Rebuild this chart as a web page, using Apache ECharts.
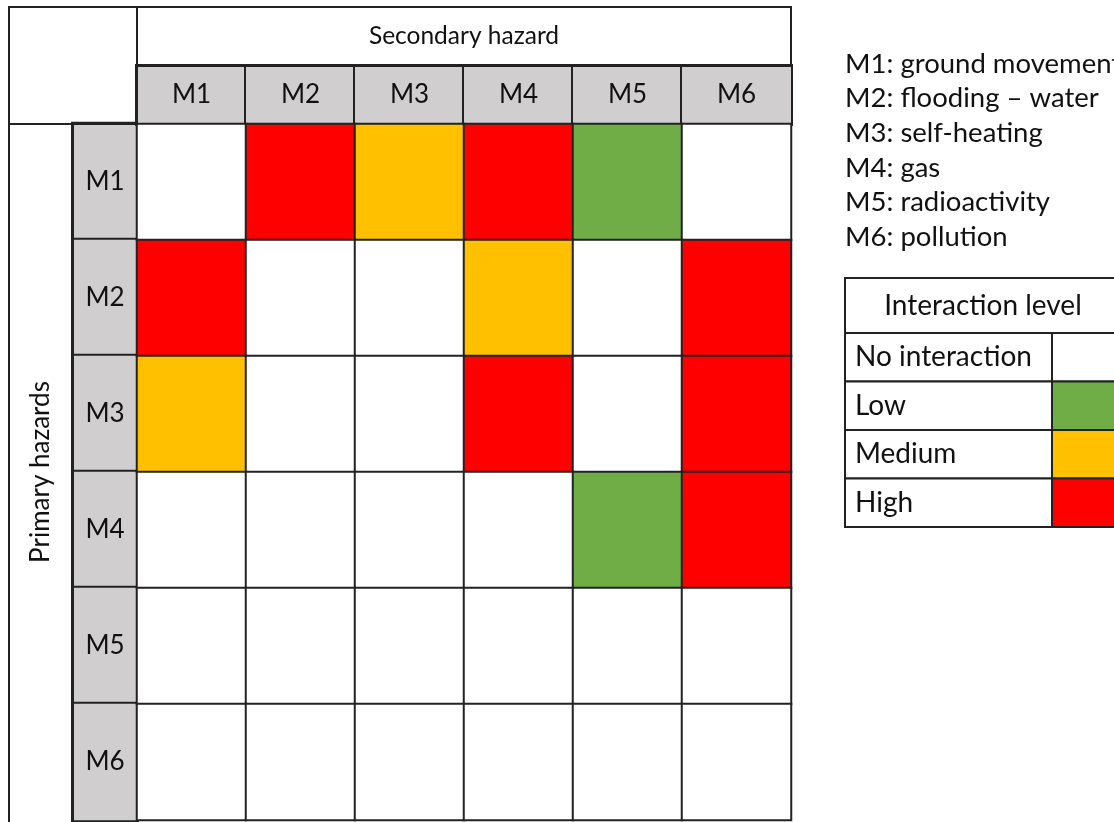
<!DOCTYPE html>
<html>
<head>
<meta charset="utf-8">
<script src="https://cdn.jsdelivr.net/npm/echarts@6/dist/echarts.min.js"></script>
<style>
  html, body { margin: 0; padding: 0; background: #fff; }
  #chart { width: 1114px; height: 822px; }
</style>
</head>
<body>
<div id="chart"></div>
<script>
var hazards = ['M1', 'M2', 'M3', 'M4', 'M5', 'M6'];
var hazardNames = ['ground movement', 'flooding – water', 'self-heating', 'gas', 'radioactivity', 'pollution'];
var levels = ['No interaction', 'Low', 'Medium', 'High'];
var levelColors = ['#ffffff', '#70ad47', '#ffc000', '#ff0000'];

// interaction level (0 none .. 3 high), one row per primary hazard, columns = secondary hazard
var rowM1 = [0, 3, 2, 3, 1, 0];
var rowM2 = [3, 0, 0, 2, 0, 3];
var rowM3 = [2, 0, 0, 3, 0, 3];
var rowM4 = [0, 0, 0, 0, 1, 3];
var rowM5 = [0, 0, 0, 0, 0, 0];
var rowM6 = [0, 0, 0, 0, 0, 0];
var matrix = [rowM1, rowM2, rowM3, rowM4, rowM5, rowM6];

var FONT = 'Lato';
var LINE = '#222';
var GREY = '#d0cece';
var TXT = '#111';

var cells = [];
matrix.forEach(function (row, y) {
    row.forEach(function (v, x) {
        cells.push([x, y, v]);
    });
});

// table frame boxes (corner, column title, row title)
var graphics = [
    { type: 'rect', z: 10, shape: { x: 9, y: 7, width: 128, height: 117 },
      style: { fill: 'none', stroke: LINE, lineWidth: 2 } },
    { type: 'rect', z: 10, shape: { x: 137, y: 7, width: 654, height: 59 },
      style: { fill: 'none', stroke: LINE, lineWidth: 2 } },
    { type: 'rect', z: 10, shape: { x: 9, y: 124, width: 64, height: 710 },
      style: { fill: 'none', stroke: LINE, lineWidth: 2 } }
];
// hazard names
hazards.forEach(function (h, i) {
    graphics.push({
        type: 'text', x: 845, y: 64 + i * 34.6,
        style: { text: h + ': ' + hazardNames[i], font: '27.5px ' + FONT, fill: TXT, verticalAlign: 'middle' }
    });
});
// interaction level key
var keyTop = 278, headH = 55, rowH = 48.5;
graphics.push({ type: 'rect', shape: { x: 845, y: keyTop, width: 290, height: headH },
    style: { fill: '#fff', stroke: LINE, lineWidth: 2 } });
graphics.push({ type: 'text', x: 983, y: keyTop + headH / 2,
    style: { text: 'Interaction level', font: '28px ' + FONT, fill: TXT, align: 'center', verticalAlign: 'middle' } });
levels.forEach(function (l, i) {
    var y = keyTop + headH + i * rowH;
    graphics.push({ type: 'rect', shape: { x: 845, y: y, width: 207, height: rowH },
        style: { fill: '#fff', stroke: LINE, lineWidth: 2 } });
    graphics.push({ type: 'rect', shape: { x: 1052, y: y, width: 90, height: rowH },
        style: { fill: levelColors[i], stroke: LINE, lineWidth: 2 } });
    graphics.push({ type: 'text', x: 855, y: y + rowH / 2,
        style: { text: l, font: '28px ' + FONT, fill: TXT, verticalAlign: 'middle' } });
});

var chart = echarts.init(document.getElementById('chart'));
var option = {
    backgroundColor: '#fff',
    animation: false,
    grid: { left: 137, top: 124, width: 654, height: 700 },
    xAxis: {
        type: 'category',
        data: hazards,
        position: 'top',
        name: 'Secondary hazard',
        nameLocation: 'middle',
        nameGap: 88,
        nameMoveOverlap: false,
        nameTextStyle: {
            fontFamily: FONT, fontSize: 24.5, color: TXT,
            align: 'center', verticalAlign: 'middle'
        },
        axisLine: { show: false },
        axisTick: { show: false },
        splitLine: { show: false },
        axisLabel: {
            interval: 0, margin: 29,
            fontFamily: FONT, fontSize: 26, color: TXT,
            width: 109, height: 58, align: 'center', verticalAlign: 'middle',
            backgroundColor: GREY, borderColor: LINE, borderWidth: 2
        }
    },
    yAxis: {
        type: 'category',
        data: hazards,
        inverse: true,
        name: 'Primary hazards',
        nameLocation: 'middle',
        nameRotate: 90,
        nameGap: 96,
        nameMoveOverlap: false,
        nameTextStyle: {
            fontFamily: FONT, fontSize: 26, color: TXT,
            align: 'center', verticalAlign: 'middle'
        },
        axisLine: { show: false },
        axisTick: { show: false },
        splitLine: { show: false },
        axisLabel: {
            interval: 0, margin: 32,
            fontFamily: FONT, fontSize: 26, color: TXT,
            width: 64, height: 116.7, align: 'center', verticalAlign: 'middle',
            backgroundColor: GREY, borderColor: LINE, borderWidth: 2
        }
    },
    visualMap: {
        type: 'piecewise',
        show: false,
        dimension: 2,
        pieces: levels.map(function (l, i) {
            return { value: i, label: l, color: levelColors[i] };
        })
    },
    series: [{
        type: 'heatmap',
        data: cells,
        itemStyle: { borderColor: LINE, borderWidth: 2 },
        emphasis: { disabled: true }
    }],
    graphic: graphics
};
chart.setOption(option);
</script>
</body>
</html>
